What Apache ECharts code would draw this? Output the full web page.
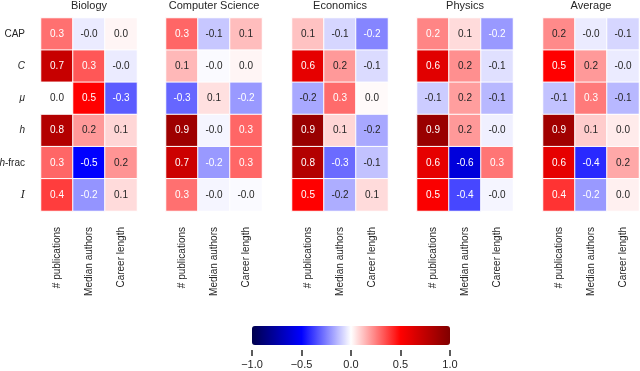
<!DOCTYPE html>
<html>
<head>
<meta charset="utf-8">
<script src="https://cdn.jsdelivr.net/npm/echarts@6/dist/echarts.min.js"></script>
<style>
  html, body { margin: 0; padding: 0; background: #fff; }
  #main { width: 640px; height: 371px; }
</style>
</head>
<body>
<div id="main"></div>
<script>
// rows: CAP, C, mu, h, h-frac, I ; cols: # publications, Median authors, Career length
var rowKeys = ['CAP', 'C', 'mu', 'h', 'hfrac', 'I'];
var colNames = ['# publications', 'Median authors', 'Career length'];
var panelTitles = ['Biology', 'Computer Science', 'Economics', 'Physics', 'Average'];

var biology = [
    [0.28, -0.04, 0.02],
    [0.72, 0.33, -0.04],
    [0.00, 0.50, -0.32],
    [0.80, 0.20, 0.08],
    [0.30, -0.50, 0.21],
    [0.38, -0.21, 0.07]
];
var compSci = [
    [0.30, -0.11, 0.13],
    [0.14, -0.01, 0.02],
    [-0.30, 0.06, -0.20],
    [0.88, -0.02, 0.30],
    [0.70, -0.20, 0.30],
    [0.28, -0.02, -0.01]
];
var economics = [
    [0.12, -0.08, -0.24],
    [0.60, 0.20, -0.07],
    [-0.17, 0.29, 0.01],
    [0.90, 0.08, -0.17],
    [0.80, -0.29, -0.12],
    [0.50, -0.16, 0.07]
];
var physics = [
    [0.24, 0.07, -0.20],
    [0.62, 0.22, -0.06],
    [-0.10, 0.19, -0.14],
    [0.90, 0.20, -0.03],
    [0.60, -0.60, 0.27],
    [0.52, -0.36, -0.02]
];
var average = [
    [0.23, -0.04, -0.08],
    [0.50, 0.20, -0.04],
    [-0.12, 0.26, -0.14],
    [0.87, 0.10, 0.04],
    [0.60, -0.42, 0.17],
    [0.40, -0.20, 0.03]
];
var panels = [biology, compSci, economics, physics, average];
var cbarTicks = [-1.0, -0.5, 0.0, 0.5, 1.0];

// seismic colormap
var seismicStops = [[0, 0, 0.3], [0, 0, 1], [1, 1, 1], [1, 0, 0], [0.5, 0, 0]];
function seismic(v) {
    var t = (Math.max(-1, Math.min(1, v)) + 1) / 2 * 4;
    var i = Math.min(3, Math.floor(t));
    var f = t - i;
    var a = seismicStops[i], b = seismicStops[i + 1];
    return [a[0] + (b[0] - a[0]) * f, a[1] + (b[1] - a[1]) * f, a[2] + (b[2] - a[2]) * f];
}
// seaborn style text colour choice
function textColor(v) {
    var c = seismic(v).map(function (x) {
        return x <= 0.03928 ? x / 12.92 : Math.pow((x + 0.055) / 1.055, 2.4);
    });
    var lum = 0.2126 * c[0] + 0.7152 * c[1] + 0.0722 * c[2];
    return lum > 0.408 ? '#262626' : '#ffffff';
}

var lefts = [41, 166, 292, 417, 543];
var cellW = 96, gridTop = 18, gridH = 193;
var font = 'Liberation Sans, Arial, sans-serif';

var grids = [], xAxes = [], yAxes = [], series = [], titles = [];
panels.forEach(function (mat, p) {
    grids.push({left: lefts[p], top: gridTop, width: cellW, height: gridH, outerBoundsMode: 'none'});
    titles.push({
        text: panelTitles[p], left: lefts[p] + cellW / 2, top: 0, padding: 0, textAlign: 'center',
        textStyle: {fontSize: 11, fontWeight: 'normal', color: '#262626', fontFamily: font}
    });
    xAxes.push({
        type: 'category', gridIndex: p, data: colNames, position: 'bottom',
        axisLine: {show: false}, axisTick: {show: false}, splitLine: {show: false},
        axisLabel: {rotate: 90, margin: 16, fontSize: 10, color: '#262626', fontFamily: font, interval: 0}
    });
    yAxes.push({
        type: 'category', gridIndex: p, data: rowKeys, inverse: true,
        axisLine: {show: false}, axisTick: {show: false}, splitLine: {show: false},
        axisLabel: {
            show: p === 0, margin: 16, fontSize: 10, color: '#262626', fontFamily: font, interval: 0,
            formatter: function (k) {
                if (k === 'CAP') return 'CAP';
                if (k === 'C') return '{it|C}';
                if (k === 'mu') return '{it|μ}';
                if (k === 'h') return '{it|h}';
                if (k === 'hfrac') return '{it|h}-frac';
                return '{ser|I}';
            },
            rich: {
                it: {fontStyle: 'italic', fontSize: 10, color: '#262626', fontFamily: font},
                ser: {fontStyle: 'italic', fontSize: 11, color: '#262626', fontFamily: 'DejaVu Serif, serif'}
            }
        }
    });
    var data = [];
    mat.forEach(function (row, r) {
        row.forEach(function (v, c) {
            data.push({value: [c, r, v], label: {color: textColor(v)}});
        });
    });
    series.push({
        type: 'heatmap', xAxisIndex: p, yAxisIndex: p, data: data,
        itemStyle: {borderColor: '#ffffff', borderWidth: 1},
        label: {
            show: true, fontSize: 10, fontFamily: font,
            formatter: function (d) { return d.value[2].toFixed(1); }
        },
        emphasis: {disabled: true}
    });
});

// colorbar: gradient from visualMap, ticks from a separate axis just below it
var cbLeft = 252, cbTop = 326, cbLen = 198, cbThick = 19;
grids.push({left: cbLeft, top: 330, width: cbLen, height: 20, outerBoundsMode: 'none'});
xAxes.push({
    type: 'value', gridIndex: 5, min: -1, max: 1, interval: 0.5,
    axisLine: {show: false}, splitLine: {show: false},
    axisTick: {show: true, length: 6, lineStyle: {color: '#262626', width: 1.5}},
    axisLabel: {
        fontSize: 11, color: '#262626', fontFamily: font, margin: 9,
        formatter: function (v) {
            var i = cbarTicks.indexOf(v);
            var s = (i >= 0 ? cbarTicks[i] : v).toFixed(1);
            return s.replace('-', '\u2212');
        }
    }
});
yAxes.push({type: 'value', gridIndex: 5, show: false});

var chart = echarts.init(document.getElementById('main'));
chart.setOption({
    animation: false,
    backgroundColor: '#fff',
    title: titles,
    grid: grids,
    xAxis: xAxes,
    yAxis: yAxes,
    visualMap: {
        type: 'continuous', min: -1, max: 1, orient: 'horizontal',
        seriesIndex: [0, 1, 2, 3, 4],
        left: cbLeft, top: cbTop, itemHeight: cbLen, itemWidth: cbThick,
        padding: 0, calculable: false, hoverLink: false, realtime: false,
        inRange: {color: ['#00004d', '#0000ff', '#ffffff', '#ff0000', '#800000']}
    },
    series: series
});
</script>
</body>
</html>
